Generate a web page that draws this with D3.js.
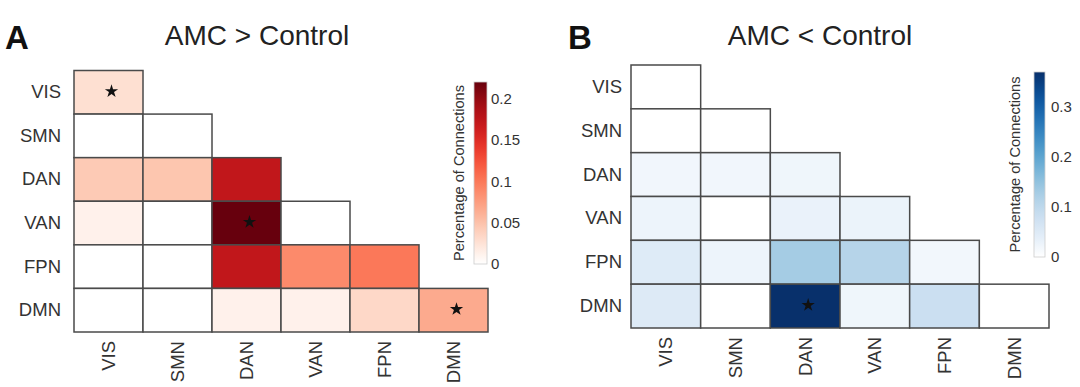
<!DOCTYPE html>
<html>
<head>
<meta charset="utf-8">
<script src="https://cdn.jsdelivr.net/npm/d3@7"></script>
<style>
  body { margin: 0; background: #fff; }
  svg { font-family: "Liberation Sans", Arial, sans-serif; }
  .tick text { fill: #333; }
</style>
</head>
<body>
<div id="chart"></div>
<script>
// networks, in row / column order
const networks = ["VIS", "SMN", "DAN", "VAN", "FPN", "DMN"];

// lower triangle, row by row (row i has i+1 values)
const moreValues = [
  [0.027],
  [0, 0],
  [0.044, 0.047, 0.172],
  [0.012, 0, 0.22, 0],
  [0, 0, 0.172, 0.088, 0.1],
  [0, 0, 0.012, 0.012, 0.033, 0.066]
];
const lessValues = [
  [0],
  [0, 0],
  [0.02, 0.02, 0.022],
  [0.025, 0, 0.03, 0.028],
  [0.048, 0.025, 0.13, 0.11, 0.018],
  [0.05, 0, 0.37, 0.022, 0.08, 0]
];

// significant cells [row, col]
const moreStars = [["VIS", "VIS"], ["VAN", "DAN"], ["DMN", "DMN"]];
const lessStars = [["DMN", "DAN"]];

const moreTicks = [0, 0.05, 0.1, 0.15, 0.2];
const lessTicks = [0, 0.1, 0.2, 0.3];

const svg = d3.select("#chart").append("svg")
  .attr("width", 1080)
  .attr("height", 387);

function drawPanel(p) {
  const g = svg.append("g");

  const x = d3.scaleBand().domain(networks).range([p.left, p.right]);
  const y = d3.scaleBand().domain(networks).range([p.top, p.bottom]);

  const ramp = p.scheme.slice();
  ramp[0] = "#ffffff";
  const color = d3.scaleSequential(d3.interpolateRgbBasis(ramp)).domain([0, p.max]);

  const cells = [];
  p.values.forEach(function (row, i) {
    row.forEach(function (v, j) {
      cells.push({ row: networks[i], col: networks[j], v: v });
    });
  });

  g.selectAll("rect.cell")
    .data(cells)
    .enter().append("rect")
    .attr("class", "cell")
    .attr("x", d => x(d.col))
    .attr("y", d => y(d.row))
    .attr("width", x.bandwidth())
    .attr("height", y.bandwidth())
    .attr("fill", d => color(d.v))
    .attr("stroke", "#4a4a4a")
    .attr("stroke-width", 1.5);

  g.selectAll("path.star")
    .data(p.stars)
    .enter().append("path")
    .attr("class", "star")
    .attr("d", d3.symbol(d3.symbolStar, 55))
    .attr("transform", d => "translate(" + (x(d[1]) + x.bandwidth() / 2 + 3) + "," + (y(d[0]) + y.bandwidth() / 2 - 1) + ")")
    .attr("fill", "#111");

  // row labels
  const ya = g.append("g")
    .attr("transform", "translate(" + p.left + ",0)")
    .call(d3.axisLeft(y).tickSize(0).tickPadding(p.rowPad));
  ya.select(".domain").remove();
  ya.selectAll("text").style("font-size", "18.5px");

  // column labels
  const xa = g.append("g")
    .attr("transform", "translate(0," + p.bottom + ")")
    .call(d3.axisBottom(x).tickSize(0));
  xa.select(".domain").remove();
  xa.selectAll("text")
    .style("font-size", "18.5px")
    .attr("transform", "rotate(-90)")
    .attr("text-anchor", "end")
    .attr("x", -9)
    .attr("y", 0)
    .attr("dy", "0.35em");

  // title and panel letter
  g.append("text")
    .attr("x", p.titleX).attr("y", 45)
    .attr("text-anchor", "middle")
    .style("font-size", "28px")
    .attr("fill", "#222")
    .text(p.title);
  g.append("text")
    .attr("x", p.letterX).attr("y", 49)
    .style("font-size", "33px")
    .style("font-weight", "bold")
    .attr("fill", "#111")
    .text(p.letter);

  // colour bar
  const cb = d3.scaleLinear().domain([0, p.max]).range([p.cbBottom, p.cbTop]);
  const gradId = "grad" + p.letter;
  const grad = svg.append("defs").append("linearGradient")
    .attr("id", gradId)
    .attr("x1", 0).attr("y1", 1).attr("x2", 0).attr("y2", 0);
  grad.selectAll("stop")
    .data(d3.range(0, 1.0001, 0.05))
    .enter().append("stop")
    .attr("offset", d => d)
    .attr("stop-color", d => color(d * p.max));

  g.append("rect")
    .attr("x", p.cbX).attr("y", p.cbTop)
    .attr("width", p.cbW).attr("height", p.cbBottom - p.cbTop)
    .attr("fill", "url(#" + gradId + ")")
    .attr("stroke", "#ccc")
    .attr("stroke-width", 0.8);

  const ca = g.append("g")
    .attr("transform", "translate(" + (p.cbX + p.cbW) + ",0)")
    .call(d3.axisRight(cb).tickValues(p.ticks).tickSize(0).tickPadding(p.cbPad).tickFormat(d3.format("~g")));
  ca.select(".domain").remove();
  ca.selectAll("text").style("font-size", "15px");

  g.append("text")
    .attr("transform", "translate(" + p.labelX + "," + ((p.cbTop + p.cbBottom) / 2) + ") rotate(-90)")
    .attr("text-anchor", "middle")
    .attr("dy", "0.35em")
    .style("font-size", "14.6px")
    .attr("fill", "#333")
    .text("Percentage of Connections");
}

drawPanel({
  values: moreValues, stars: moreStars, ticks: moreTicks,
  scheme: d3.schemeReds[9], max: 0.22,
  left: 74, right: 488, top: 70.5, bottom: 332, rowPad: 13,
  title: "AMC > Control", titleX: 257, letter: "A", letterX: 5,
  cbX: 474, cbW: 13, cbTop: 82, cbBottom: 264, cbPad: 4, labelX: 459
});

drawPanel({
  values: lessValues, stars: lessStars, ticks: lessTicks,
  scheme: d3.schemeBlues[9], max: 0.37,
  left: 631, right: 1049, top: 65, bottom: 328, rowPad: 9,
  title: "AMC < Control", titleX: 820, letter: "B", letterX: 568,
  cbX: 1034, cbW: 11, cbTop: 72, cbBottom: 257, cbPad: 6, labelX: 1015
});
</script>
</body>
</html>
